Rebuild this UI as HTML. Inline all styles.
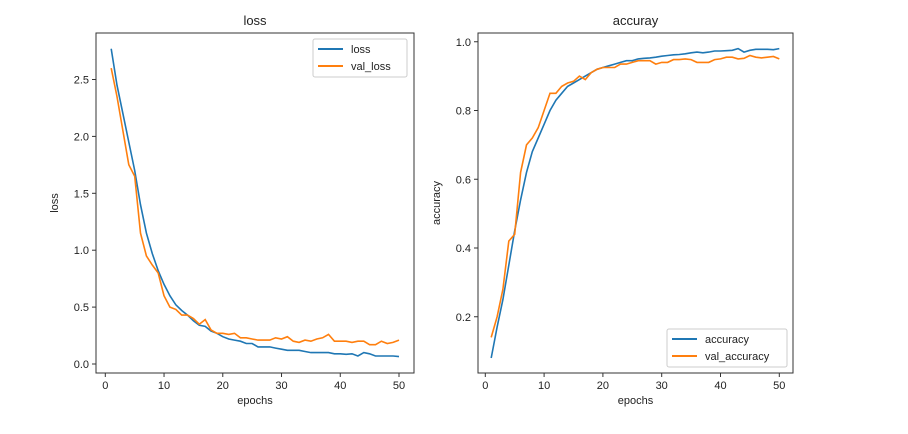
<!DOCTYPE html>
<html><head><meta charset="utf-8"><style>
body{margin:0;background:#fff;width:908px;height:429px;overflow:hidden}
text{font-family:"Liberation Sans","WenQuanYi Zen Hei",sans-serif;fill:#222}
</style></head><body>
<svg id="s" width="908" height="429" xmlns="http://www.w3.org/2000/svg"></svg>
<script>
const s=document.getElementById('s');
let h='';
const L1=[2.77,2.45,2.2,1.95,1.7,1.4,1.15,0.97,0.82,0.7,0.6,0.52,0.47,0.43,0.38,0.34,0.33,0.29,0.27,0.24,0.22,0.21,0.2,0.18,0.18,0.15,0.15,0.15,0.14,0.13,0.12,0.12,0.12,0.11,0.1,0.1,0.1,0.1,0.09,0.09,0.085,0.09,0.07,0.1,0.09,0.07,0.07,0.07,0.07,0.065];
const L2=[2.6,2.35,2.05,1.75,1.65,1.15,0.95,0.87,0.8,0.6,0.5,0.48,0.43,0.43,0.4,0.35,0.39,0.3,0.27,0.27,0.26,0.27,0.23,0.23,0.22,0.21,0.21,0.21,0.23,0.22,0.24,0.2,0.19,0.21,0.2,0.22,0.23,0.26,0.2,0.2,0.2,0.19,0.2,0.2,0.17,0.17,0.2,0.18,0.19,0.21];
const A1=[0.08,0.17,0.25,0.35,0.45,0.54,0.62,0.68,0.72,0.76,0.8,0.83,0.85,0.87,0.88,0.89,0.9,0.91,0.92,0.925,0.93,0.935,0.94,0.945,0.945,0.95,0.952,0.953,0.955,0.958,0.96,0.962,0.963,0.965,0.968,0.97,0.968,0.97,0.973,0.973,0.974,0.975,0.98,0.97,0.975,0.978,0.978,0.978,0.977,0.98];
const A2=[0.14,0.2,0.28,0.42,0.44,0.62,0.7,0.72,0.75,0.8,0.85,0.85,0.87,0.88,0.885,0.9,0.89,0.91,0.92,0.925,0.925,0.925,0.935,0.935,0.94,0.945,0.945,0.945,0.935,0.94,0.94,0.948,0.948,0.95,0.948,0.94,0.94,0.94,0.948,0.95,0.955,0.955,0.95,0.952,0.96,0.955,0.953,0.955,0.957,0.95];
function ax(x0,x1,y0,y1,xz,xs,yz,ys,yt,yfmt,data,title,ylab,leg,legBox){
 h+=`<rect x="${x0}" y="${y0}" width="${x1-x0}" height="${y1-y0}" fill="none" stroke="#333" stroke-width="1"/>`;
 for(let t=0;t<=50;t+=10){const x=xz+t*xs;h+=`<line x1="${x}" y1="${y1}" x2="${x}" y2="${y1+4}" stroke="#333"/><text x="${x}" y="${y1+16}" font-size="11" text-anchor="middle">${t}</text>`;}
 yt.forEach(v=>{const y=yz-v*ys;h+=`<line x1="${x0-4}" y1="${y}" x2="${x0}" y2="${y}" stroke="#333"/><text x="${x0-7}" y="${y+4}" font-size="11" text-anchor="end">${v.toFixed(1)}</text>`;});
 const cols=['#1f77b4','#ff7f0e'];
 data.forEach((d,i)=>{h+=`<polyline fill="none" stroke="${cols[i]}" stroke-width="1.6" points="${d.map((v,k)=>(xz+(k+1)*xs).toFixed(1)+','+(yz-v*ys).toFixed(1)).join(' ')}"/>`;});
 const cx=(x0+x1)/2;
 h+=`<text x="${cx}" y="${y0-8}" font-size="13" text-anchor="middle">${title}</text>`;
 h+=`<text x="${cx}" y="${y1+31}" font-size="11" text-anchor="middle">epochs</text>`;
 h+=`<text transform="translate(${x0-38},${(y0+y1)/2}) rotate(-90)" font-size="11" text-anchor="middle">${ylab}</text>`;
 const [lx,ly,lw,lh]=legBox;
 h+=`<rect x="${lx}" y="${ly}" width="${lw}" height="${lh}" rx="2" fill="#fff" stroke="#ccc"/>`;
 leg.forEach((n,i)=>{const y=ly+10+i*17;h+=`<line x1="${lx+5}" y1="${y}" x2="${lx+30}" y2="${y}" stroke="${cols[i]}" stroke-width="2"/><text x="${lx+38}" y="${y+4}" font-size="11">${n}</text>`;});
}
ax(96,414,33,373,105.3,5.874,364,113.8,[0,0.5,1,1.5,2,2.5],0,[L1,L2],'loss','loss',['loss','val_loss'],[313,39,94,38]);
ax(478,793,33,373,485.3,5.88,385.5,343.75,[0.2,0.4,0.6,0.8,1.0],0,[A1,A2],'accuray','accuracy',['accuracy','val_accuracy'],[667,329,120,38]);
s.innerHTML=h;
</script>
</body></html>
